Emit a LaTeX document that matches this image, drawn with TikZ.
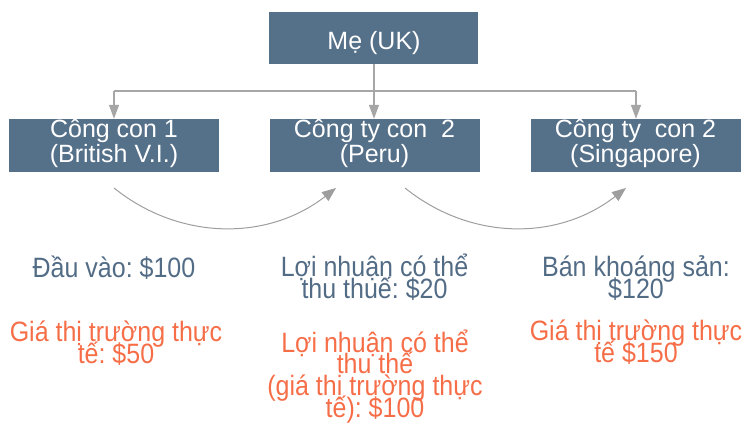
\documentclass[tikz,border=0pt]{standalone}
\usepackage{fontspec}
\setmainfont{Liberation Sans}
\newfontfamily\tallfont[FakeStretch=0.893]{Liberation Sans}
\frenchspacing
\usetikzlibrary{arrows.meta}
\definecolor{boxfill}{HTML}{557089}
\definecolor{bluetxt}{HTML}{536C86}
\definecolor{orangetxt}{HTML}{F66E48}
\definecolor{linegray}{HTML}{A6A6A6}
\definecolor{curvegray}{HTML}{9E9E9E}
\tikzset{
  orgbox/.style={fill=boxfill, draw=none, inner sep=0pt, minimum height=53pt, minimum width=210pt},
  boxtext/.style={text=white, font=\fontsize{25}{24}\selectfont, anchor=base, inner sep=0pt},
  bluetext/.style={text=bluetxt, font=\tallfont\fontsize{28}{22}\selectfont, anchor=base, inner sep=0pt},
  orangetext/.style={text=orangetxt, font=\tallfont\fontsize{28}{22}\selectfont, anchor=base, inner sep=0pt},
  conn/.style={draw=linegray, line width=1.5pt},
  connarrow/.style={conn, -{Triangle[length=14pt,width=10pt]}},
  flow/.style={draw=curvegray, line width=1pt, -{Triangle[length=14pt,width=11pt]}}
}
\begin{document}
\begin{tikzpicture}[x=1pt,y=-1pt]
\useasboundingbox (0,0) rectangle (747,425);
% boxes
\node[orgbox, minimum width=209pt, minimum height=52pt] (mom) at (373.5,38) {};
\node[orgbox] (sub1) at (114,145.5) {};
\node[orgbox] (sub2) at (374.5,145.5) {};
\node[orgbox] (sub3) at (635.5,145.5) {};
% box texts
\node[boxtext] (momt) at (374,50) {Mẹ (UK)};
\node[boxtext] (s1a) at (114,138) {Công con 1};
\node[boxtext] (s1b) at (114,162) {(British V.I.)};
\node[boxtext] (s2a) at (374.5,138) {Công ty con\ \ 2};
\node[boxtext] (s2b) at (374.5,162) {(Peru)};
\node[boxtext] (s3a) at (635.5,138) {Công ty\ \ con 2};
\node[boxtext] (s3b) at (635.5,162) {(Singapore)};
% connectors
\coordinate (jl) at (114,91);
\coordinate (jr) at (636,91);
\coordinate (jm) at (374,91);
\draw[conn] (jl) -- (jr);
\draw[connarrow] (mom.south -| jm) -- (sub2.north -| jm);
\draw[connarrow] (jl) -- (sub1.north -| jl);
\draw[connarrow] (jr) -- (sub3.north -| jr);
% flow curves
\coordinate (c1s) at (114,188);
\coordinate (c1e) at (336,188);
\coordinate (c2s) at (405,188);
\coordinate (c2e) at (626,188);
\draw[flow] (c1s) .. controls (180,241) and (268,241) .. (c1e);
\draw[flow] (c2s) .. controls (471,241) and (558,241) .. (c2e);
% left column
\node[bluetext] (t1a) at (114,277) {Đầu vào: \$100};
\node[orangetext] (o1a) at (116,341) {Giá thị trường thực};
\node[orangetext] (o1b) at (116,363) {tế: \$50};
% middle column
\node[bluetext] (t2a) at (374.5,276) {Lợi nhuận có thể};
\node[bluetext] (t2b) at (374.5,298) {thu thuế: \$20};
\node[orangetext] (o2a) at (375,352) {Lợi nhuận có thể};
\node[orangetext] (o2b) at (375,373.5) {thu thế};
\node[orangetext] (o2c) at (375,395) {(giá thị trường thực};
\node[orangetext] (o2d) at (375,417) {tế): \$100};
% right column
\node[bluetext] (t3a) at (636,276) {Bán khoáng sản:};
\node[bluetext] (t3b) at (636,298) {\$120};
\node[orangetext] (o3a) at (636,340) {Giá thị trường thực};
\node[orangetext] (o3b) at (636,362.5) {tế \$150};
\end{tikzpicture}
\end{document}
